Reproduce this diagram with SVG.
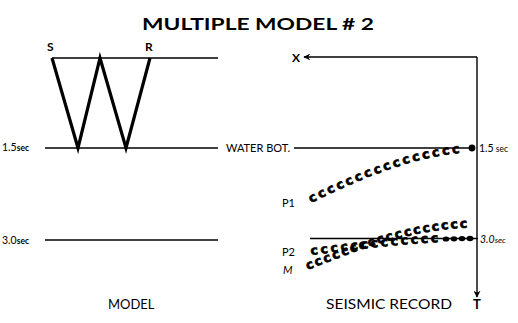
<svg xmlns="http://www.w3.org/2000/svg" width="518" height="323" viewBox="0 0 518 323">
<style>
text{font-family:"Lato","DejaVu Sans",sans-serif;fill:#000}
.t{font-size:17px;font-weight:bold}
.lb{font-size:12px;font-weight:bold}
.sm{font-size:10.5px}
.lab{font-size:11px}
.cap{font-size:13px}
.wav{font-family:"DejaVu Sans",sans-serif;font-size:12.5px;font-weight:bold;stroke:#000;stroke-width:0.7}
.ln{stroke:#000;stroke-width:1.4;fill:none}
.w{stroke:#000;stroke-width:3.2;fill:none;stroke-linejoin:miter}
</style>
<defs>
<marker id="ah" viewBox="0 0 10 10" refX="9" refY="5" markerWidth="7" markerHeight="7" orient="auto" markerUnits="userSpaceOnUse">
<path d="M0,0 L10,5 L0,10 L3,5 Z" fill="#000"/>
</marker>
<path id="p1" d="M311,203 C360,179 410,157 468,152"/>
<path id="p2" d="M311,255 C360,249 400,244 440,242"/>
<path id="pm" d="M308,270 C355,251 410,229 472,227.5"/>
</defs>
<g id="title"><text class="t" x="258" y="30" text-anchor="middle" textLength="232" lengthAdjust="spacingAndGlyphs">MULTIPLE  MODEL  # 2</text></g>
<g id="connectors">
<path class="ln" d="M52,58 H218"/>
<path class="ln" d="M45,148 H218"/>
<path class="ln" d="M294,148 H472"/>
<path class="ln" d="M45,240 H218"/>
<path class="ln" d="M310,238.5 H478"/>
<path class="ln" d="M477,57 H304" marker-end="url(#ah)"/>
<path class="ln" d="M477,57 V297" marker-end="url(#ah)"/>
</g>
<g id="model">
<path class="w" d="M52,58 L78,148 L100,58 L126,148 L150,58"/>
<text class="lb" x="47" y="51">S</text>
<text class="lb" x="145" y="51">R</text>
<text class="sm" x="2" y="151">1.5<tspan font-size="8.5" font-weight="bold">sec</tspan></text>
<text class="sm" x="2" y="244">3.0<tspan font-size="8.5" font-weight="bold">sec</tspan></text>
<text class="cap" x="108" y="309">MODEL</text>
</g>
<g id="label-water"><text class="lab" x="226" y="152">WATER BOT.</text></g>
<g id="record">
<text class="lb" x="292" y="62">X</text>
<text class="sm" x="479" y="152">1.5<tspan font-size="8.5"> sec</tspan></text>
<text class="sm" x="480" y="243" font-style="italic">3.0<tspan font-size="8.5">sec</tspan></text>
<text class="lab" x="282" y="207">P1</text>
<text class="lab" x="282" y="256">P2</text>
<text class="lab" x="283" y="274" font-style="italic">M</text>
<text class="cap" x="326" y="309" textLength="126" lengthAdjust="spacingAndGlyphs">SEISMIC RECORD</text>
<text class="cap" x="473" y="309" font-weight="bold">T</text>
</g>
<g id="traces">
<text class="wav"><textPath href="#p1" textLength="158" lengthAdjust="spacing">cccccccccccccccc</textPath></text>
<text class="wav"><textPath href="#p2" textLength="128" lengthAdjust="spacing">ccccccccccccc</textPath></text>
<text class="wav"><textPath href="#pm" textLength="166" lengthAdjust="spacing">cccccccccccccccccc</textPath></text>
<circle cx="472" cy="148" r="3.4"/>
<ellipse cx="446" cy="239" rx="3.3" ry="2.6"/>
<ellipse cx="454" cy="238.8" rx="3.3" ry="2.6"/>
<ellipse cx="462" cy="238.6" rx="3.3" ry="2.6"/>
<ellipse cx="470" cy="238.5" rx="3.4" ry="2.8"/>
</g>
</svg>
